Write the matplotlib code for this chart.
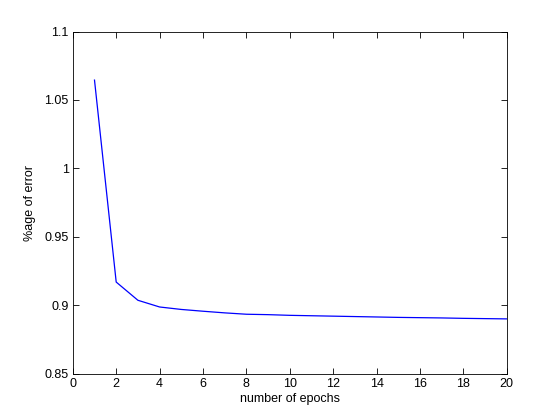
import matplotlib
matplotlib.use("Agg")
import matplotlib.pyplot as plt

epochs = list(range(1, 21))
error_pct = [1.0645, 0.917, 0.9037, 0.8988, 0.897, 0.8957, 0.8945, 0.8935,
             0.8932, 0.8927, 0.8924, 0.8921, 0.8918, 0.8915, 0.8912, 0.8910,
             0.8908, 0.8905, 0.8903, 0.8901]

plt.rcParams["font.family"] = ["Liberation Sans", "DejaVu Sans"]
plt.rcParams["font.size"] = 9

fig = plt.figure(figsize=(5.6, 4.2), dpi=100)
ax = fig.add_axes([0.13, 0.11, 0.775, 0.815])
ax.plot(epochs, error_pct, color="#0000ff", linewidth=0.9)

ax.set_xlim(0, 20)
ax.set_ylim(0.85, 1.1)
ax.set_xticks(range(0, 21, 2))
ax.set_yticks([0.85, 0.9, 0.95, 1.0, 1.05, 1.1])
ax.set_yticklabels(["0.85", "0.9", "0.95", "1", "1.05", "1.1"])
ax.tick_params(direction="in", top=True, right=True, length=4, width=0.6, pad=3)
for s in ax.spines.values():
    s.set_linewidth(0.6)

ax.set_xlabel("number of epochs", labelpad=2)
ax.set_ylabel("%age of error", labelpad=6)

fig.savefig("out.png", dpi=100)
